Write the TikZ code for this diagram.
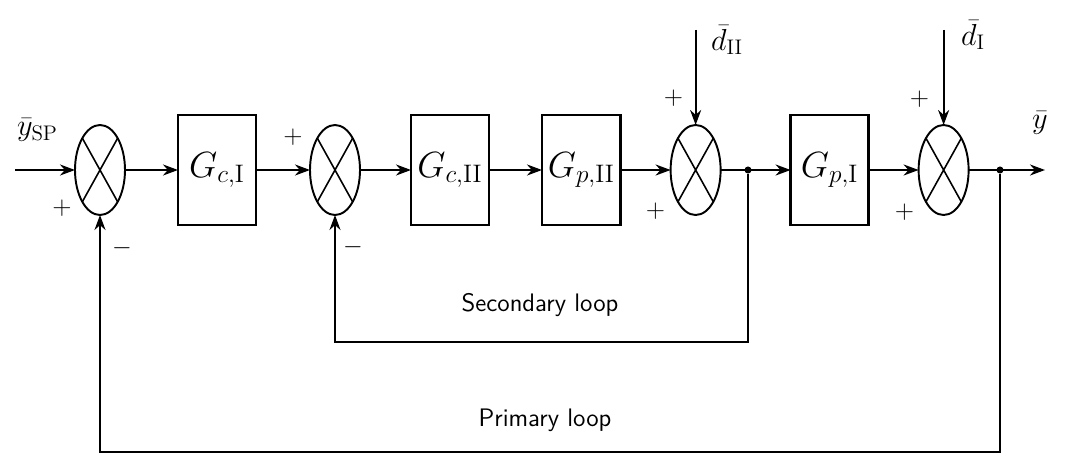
\documentclass[tikz,border=0pt]{standalone}
\usepackage{amsmath}
\usetikzlibrary{shapes.geometric, arrows.meta, positioning}
\tikzset{
  sum/.style={ellipse, draw, line width=1.1pt, minimum width=1.0cm,
    minimum height=1.8cm, inner sep=0pt, outer sep=0pt,
    path picture={\draw[line width=0.9pt]
      (path picture bounding box.north west) -- (path picture bounding box.south east)
      (path picture bounding box.north east) -- (path picture bounding box.south west);}},
  block/.style={rectangle, draw, line width=1.3pt, minimum width=1.56cm,
    minimum height=2.2cm, outer sep=0pt, font=\huge},
  sig/.style={-{Stealth[length=3mm, width=2.2mm]}, line width=1.2pt},
  sign/.style={font=\Large},
  lbl/.style={font=\LARGE},
  loopname/.style={font=\sffamily\Large},
  dot/.style={circle, fill, inner sep=0pt, minimum size=4pt},
}
\begin{document}
\begin{tikzpicture}
  \useasboundingbox (0,0) rectangle (21.44,9.2);
  % Forward path
  \node[sum] (s1) at (2.0,5.8) {};
  \node[block, right=1.06cm of s1] (gc1) {$G_{c,\mathrm{I}}$};
  \node[sum, right=1.08cm of gc1] (s2) {};
  \node[block, right=1.02cm of s2] (gc2) {$G_{c,\mathrm{II}}$};
  \node[block, right=1.06cm of gc2] (gp2) {$G_{p,\mathrm{II}}$};
  \node[sum, right=1.0cm of gp2] (s3) {};
  \node[block, right=1.4cm of s3] (gp1) {$G_{p,\mathrm{I}}$};
  \node[sum, right=1.0cm of gp1] (s4) {};

  % Inputs, outputs and branch points
  \coordinate (in) at (0.3,5.8);
  \coordinate (out) at (20.9,5.8);
  \node[dot] (j1) at (14.96,5.8) {};
  \node[dot] (j2) at (20.0,5.8) {};
  \coordinate (dII) at ([yshift=1.9cm]s3.north);
  \coordinate (dI) at ([yshift=1.9cm]s4.north);
  \coordinate (sec) at (0,2.36);
  \coordinate (pri) at (0,0.16);

  % Labels
  \node[lbl] (ysp) at (0.75,6.6) {$\bar{y}_{\mathrm{SP}}$};
  \node[lbl] (yout) at (20.8,6.75) {$\bar{y}$};
  \node[lbl, anchor=west] (dIIl) at (14.1,8.4) {$\bar{d}_{\mathrm{II}}$};
  \node[lbl, anchor=west] (dIl) at (19.1,8.5) {$\bar{d}_{\mathrm{I}}$};
  \node[loopname] (secl) at (10.8,3.1) {Secondary loop};
  \node[loopname] (pril) at (10.9,0.8) {Primary loop};

  % Signs
  \node[sign] at ([shift={(-0.76,-0.76)}]s1) {$+$};
  \node[sign] at ([shift={(0.44,-1.56)}]s1) {$-$};
  \node[sign] at ([shift={(-0.84,0.66)}]s2) {$+$};
  \node[sign] at ([shift={(0.36,-1.54)}]s2) {$-$};
  \node[sign] at ([shift={(-0.44,1.44)}]s3) {$+$};
  \node[sign] at ([shift={(-0.8,-0.82)}]s3) {$+$};
  \node[sign] at ([shift={(-0.48,1.42)}]s4) {$+$};
  \node[sign] at ([shift={(-0.78,-0.84)}]s4) {$+$};

  % Connections
  \draw[sig] (in) -- (s1);
  \draw[sig] (s1) -- (gc1);
  \draw[sig] (gc1) -- (s2);
  \draw[sig] (s2) -- (gc2);
  \draw[sig] (gc2) -- (gp2);
  \draw[sig] (gp2) -- (s3);
  \draw[sig] (s3) -- (gp1);
  \draw[sig] (gp1) -- (s4);
  \draw[sig] (s4) -- (out);
  \draw[sig] (dII) -- (s3);
  \draw[sig] (dI) -- (s4);

  % Feedback loops
  \draw[sig, line width=1pt] (j1) -- (j1 |- sec) -| (s2.south);
  \draw[sig, line width=1pt] (j2) -- (j2 |- pri) -| (s1.south);
\end{tikzpicture}
\end{document}
